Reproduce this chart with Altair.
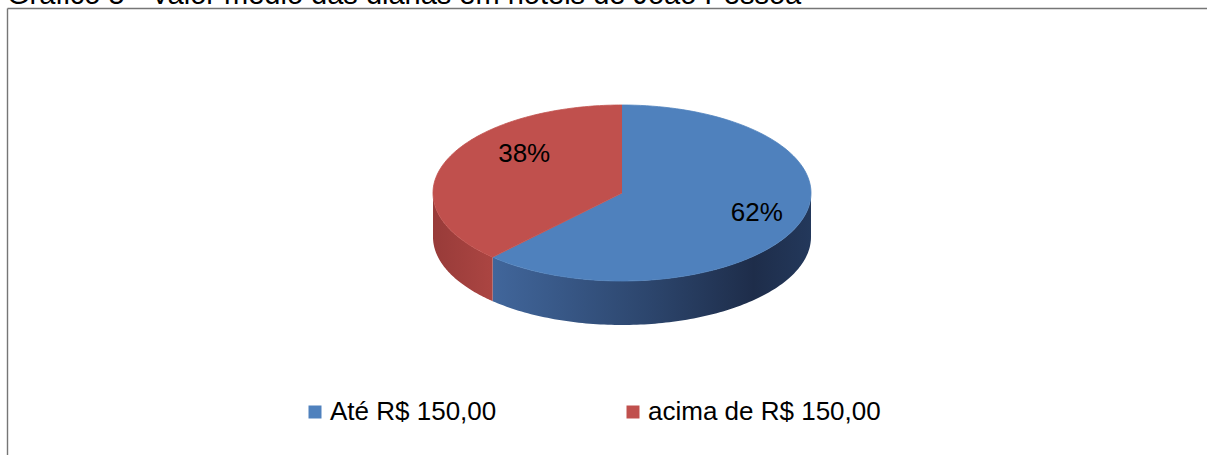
import altair as alt
import pandas as pd

# ---- data ----
categories = ["Até  R$ 150,00", "acima de R$ 150,00"]
values = [62, 38]
labels = ["62%", "38%"]
colors = ["#4f81bd", "#c0504d"]
title_text = "Gráfico 5 - Valor médio das diárias em hotéis de João Pessoa"

# ---- geometry / style ----
W, H = 1207, 455
CX, CY, RX, RY, DEPTH = 622, 193, 189, 88, 44
N = 120
FONT = "Liberation Sans"

xdom = [-CX / RX, (W - CX) / RX]
ydom = [-(H - CY) / RY, CY / RY]


def X(f):
    return alt.X(f, type="quantitative", scale=alt.Scale(domain=xdom, nice=False, zero=False), axis=None)


def Y(f):
    return alt.Y(f, type="quantitative", scale=alt.Scale(domain=ydom, nice=False, zero=False), axis=None)


df = pd.DataFrame({"cat": categories, "value": values, "label": labels, "idx": list(range(len(values)))})

base = (
    alt.Chart(df)
    .transform_joinaggregate(total="sum(value)")
    .transform_window(cum="sum(value)", sort=[alt.SortField("idx")], frame=[None, 0])
    .transform_calculate(
        a0="(datum.cum - datum.value) / datum.total * 2 * PI",
        a1="datum.cum / datum.total * 2 * PI",
    )
)

# side (visible front half of the cylinder wall)
side_base = (
    base.transform_calculate(s="max(datum.a0, PI / 2)", e="min(datum.a1, 3 * PI / 2)")
    .transform_filter("datum.e > datum.s")
    .transform_calculate(t=f"sequence(0, {2 * N + 2})")
    .transform_flatten(["t"])
    .transform_calculate(k=f"datum.t <= {N} ? datum.t : {2 * N + 1} - datum.t")
    .transform_calculate(ang=f"datum.s + (datum.e - datum.s) * datum.k / {N}")
    .transform_calculate(
        px="sin(datum.ang)",
        py=f"cos(datum.ang) - (datum.t <= {N} ? 0 : {DEPTH / RY})",
    )
)

side_fills = [
    alt.Gradient(
        gradient="linear",
        x1=0, x2=1, y1=0, y2=0,
        stops=[
            alt.GradientStop(color="#41669b", offset=0),
            alt.GradientStop(color="#2c456c", offset=0.5),
            alt.GradientStop(color="#1e2d4a", offset=0.82),
            alt.GradientStop(color="#23385b", offset=1),
        ],
    ),
    alt.Gradient(
        gradient="linear",
        x1=0, x2=1, y1=0, y2=0,
        stops=[
            alt.GradientStop(color="#983b39", offset=0),
            alt.GradientStop(color="#ab4542", offset=1),
        ],
    ),
]

side_layers = []
for i, c in enumerate(categories):
    side_layers.append(
        side_base.transform_filter(alt.datum.cat == c)
        .mark_line(fill=side_fills[i], strokeWidth=0, interpolate="linear")
        .encode(x=X("px"), y=Y("py"), order=alt.Order("t:Q"))
    )

# top face
top = (
    base.transform_calculate(t=f"sequence(-1, {N + 1})")
    .transform_flatten(["t"])
    .transform_calculate(ang=f"datum.a0 + (datum.a1 - datum.a0) * max(datum.t, 0) / {N}")
    .transform_calculate(
        px="datum.t < 0 ? 0 : sin(datum.ang)",
        py="datum.t < 0 ? 0 : cos(datum.ang)",
    )
    .mark_line(strokeWidth=0.8)
    .encode(
        x=X("px"),
        y=Y("py"),
        order=alt.Order("t:Q"),
        detail="cat:N",
        fill=alt.Fill(
            "cat:N",
            scale=alt.Scale(domain=categories, range=colors),
            legend=alt.Legend(
                orient="none",
                legendX=302,
                legendY=399,
                direction="horizontal",
                symbolType="square",
                symbolSize=169,
                symbolStrokeWidth=0,
                labelFont=FONT,
                labelFontSize=26,
                labelColor="#000000",
                labelOffset=2,
                labelLimit=500,
                columnPadding=116,
                padding=0,
                title=None,
            ),
        ),
        stroke=alt.Stroke("cat:N", scale=alt.Scale(domain=categories, range=colors), legend=None),
    )
)

# percentage labels
label_offsets = [(3, -4), (34, -15)]
label_layers = []
for i, c in enumerate(categories):
    dx, dy = label_offsets[i]
    label_layers.append(
        base.transform_filter(alt.datum.cat == c)
        .transform_calculate(mid="(datum.a0 + datum.a1) / 2")
        .transform_calculate(lx="0.75 * sin(datum.mid)", ly="0.75 * cos(datum.mid)")
        .mark_text(font=FONT, fontSize=26, color="#000000", align="center", baseline="middle", dx=dx, dy=dy)
        .encode(x=X("lx"), y=Y("ly"), text="label:N")
    )

# frame lines
frame_df = pd.DataFrame({"k": [0]})
frame_top = alt.Chart(frame_df).mark_rule(color="#767676", strokeWidth=1.4).encode(
    x=alt.value(7.5), x2=alt.value(W), y=alt.value(8.5), y2=alt.value(8.5)
)
frame_left = alt.Chart(frame_df).mark_rule(color="#767676", strokeWidth=1.4).encode(
    x=alt.value(7.5), x2=alt.value(7.5), y=alt.value(8.5), y2=alt.value(H)
)

# cut-off caption at the very top
title_df = pd.DataFrame({"t": [title_text]})
title = alt.Chart(title_df).mark_text(
    font=FONT, fontSize=29, color="#000000", align="left", baseline="alphabetic"
).encode(x=alt.value(7), y=alt.value(4), text="t:N")

chart = (
    alt.layer(title, frame_top, frame_left, *side_layers, top, *label_layers)
    .properties(width=W, height=H, autosize=alt.AutoSizeParams(type="none"), padding=0, background="#ffffff")
    .configure_view(strokeWidth=0)
)

chart.save("out.html", embed_options={"renderer": "svg", "actions": False})
